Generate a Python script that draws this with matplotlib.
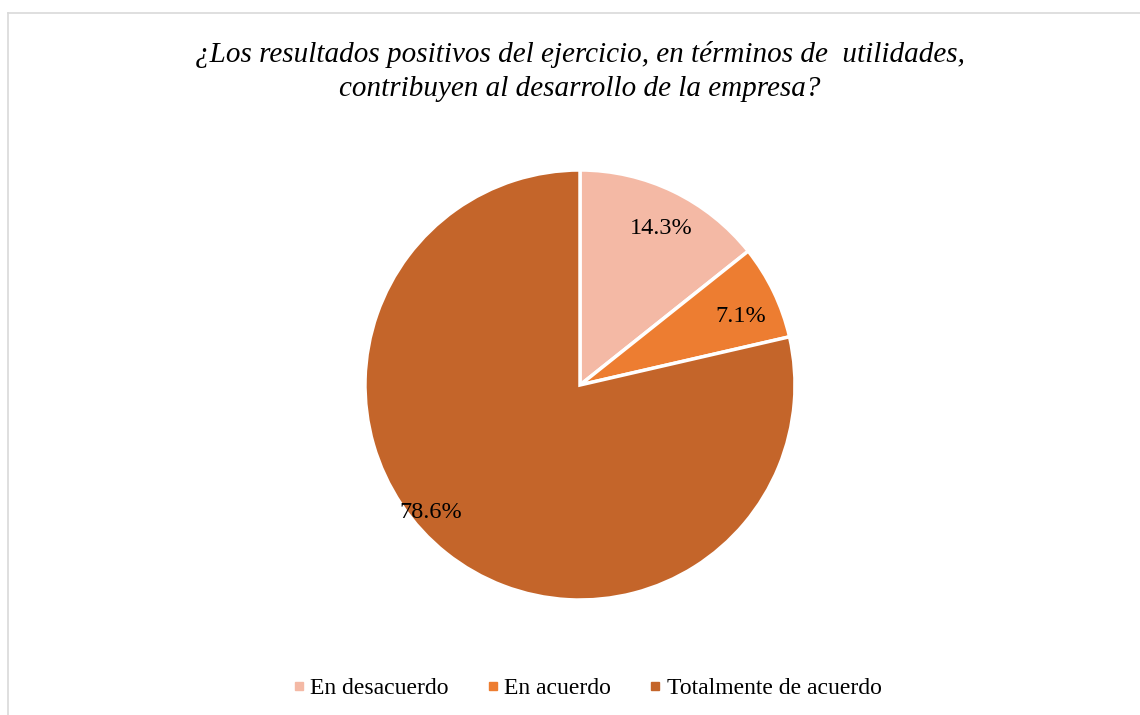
import matplotlib.pyplot as plt
from matplotlib.lines import Line2D
import numpy as np

# Survey answers and their shares (percent)
categories = ["En desacuerdo", "En acuerdo", "Totalmente de acuerdo"]
shares = [14.3, 7.1, 78.6]
colors = ["#F4B9A5", "#ED7D31", "#C4652A"]
title = "¿Los resultados positivos del ejercicio, en términos de  utilidades,\ncontribuyen al desarrollo de la empresa?"

plt.rcParams['font.family'] = ['Liberation Serif', 'DejaVu Serif']

fig = plt.figure(figsize=(11.4, 7.15), dpi=100)

# pie centred at ~ (580, 385) px, radius ~215 px
ax = fig.add_axes([365 / 1140, 115 / 715, 430 / 1140, 430 / 715])
wedges, texts, autotexts = ax.pie(
    shares, colors=colors, startangle=90, counterclock=False,
    autopct='%1.1f%%', pctdistance=0.82,
    wedgeprops=dict(edgecolor='white', linewidth=2.5),
    textprops=dict(fontsize=17.5, color='black'))
ax.set_xlim(-1, 1)
ax.set_ylim(-1, 1)
ax.set_aspect('equal')

# labels sit a little off their mid angle, as in the original
for t, a, r in zip(autotexts, [62.5, 23.0, -139.5], [0.82, 0.81, 0.91]):
    t.set_position((r * np.cos(np.deg2rad(a)), r * np.sin(np.deg2rad(a))))

fig.text(580 / 1140, 1 - 71.5 / 715, title, ha='center', va='center',
         fontsize=21, style='italic', linespacing=1.35)

handles = [Line2D([], [], marker='s', linestyle='none', markersize=6,
                  markerfacecolor=c, markeredgecolor=c) for c in colors]
fig.legend(handles, categories, loc='center', bbox_to_anchor=(586 / 1140, 1 - 688 / 715),
           ncol=3, frameon=False, fontsize=17, handletextpad=0.15,
           columnspacing=1.5, handlelength=0.7)

# chart border (only the top and left edges are inside the picture)
fig.add_artist(Line2D([8 / 1140, 8 / 1140], [0, 1 - 12.5 / 715],
                      color='#D9D9D9', linewidth=1.2))
fig.add_artist(Line2D([8 / 1140, 1], [1 - 12.5 / 715, 1 - 12.5 / 715],
                      color='#D9D9D9', linewidth=1.2))

fig.savefig('out.png', dpi=100)
